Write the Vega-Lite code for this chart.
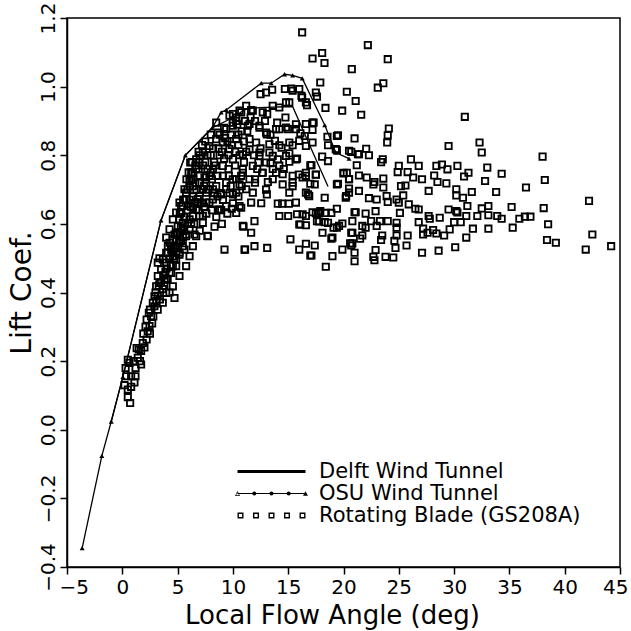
{
"$schema": "https://vega.github.io/schema/vega-lite/v6.json",
"width": 553, "height": 549,
"autosize": "none",
"padding": {"left": 67, "top": 18, "right": 11, "bottom": 64},
"background": "white",
"config": {
 "view": {"stroke": "black", "strokeWidth": 1.5},
 "font": "DejaVu Sans",
 "axis": {"domainColor": "black", "domainWidth": 1.5, "tickColor": "black", "tickWidth": 1.5, "tickSize": 7, "labelColor": "black", "titleColor": "black", "labelFont": "DejaVu Sans", "titleFont": "DejaVu Sans", "labelFontSize": 20, "titleFontSize": 26, "titleFontWeight": "normal", "grid": false, "labelOverlap": false, "labelFlush": false}
},
"datasets": {
 "blade": [
{"x":0.35,"y":0.156},{"x":0.5,"y":0.204},{"x":0.65,"y":0.195},{"x":0.8,"y":0.156},{"x":1.19,"y":0.156},{"x":1.1,"y":0.138},{"x":0.5,"y":0.117},{"x":0.8,"y":0.125},{"x":0.5,"y":0.095},{"x":0.71,"y":0.078},{"x":1.5,"y":0.234},{"x":1.7,"y":0.19},{"x":1.6,"y":0.2},{"x":1.3,"y":0.238},{"x":1.85,"y":0.253},{"x":2.2,"y":0.263},{"x":2.3,"y":0.287},{"x":2.46,"y":0.302},{"x":2.2,"y":0.321},{"x":2.6,"y":0.331},{"x":2.4,"y":0.341},{"x":2.9,"y":0.36},{"x":3.07,"y":0.375},{"x":3.66,"y":0.37},{"x":1.0,"y":0.2},{"x":1.4,"y":0.21},{"x":1.9,"y":0.28},{"x":2.0,"y":0.24},{"x":2.7,"y":0.31},{"x":3.2,"y":0.35},{"x":0.2,"y":0.13},{"x":0.3,"y":0.18},
{"x":2.76,"y":0.37},{"x":3.21,"y":0.39},{"x":3.67,"y":0.41},{"x":4.27,"y":0.4},{"x":4.72,"y":0.384},{"x":3.36,"y":0.428},{"x":3.97,"y":0.438},{"x":4.42,"y":0.457},{"x":4.87,"y":0.477},{"x":3.21,"y":0.487},{"x":3.36,"y":0.5},{"x":3.97,"y":0.516},{"x":4.42,"y":0.525},{"x":5.17,"y":0.51},{"x":4.12,"y":0.535},{"x":3.97,"y":0.56},{"x":4.27,"y":0.584},{"x":4.72,"y":0.569},{"x":5.17,"y":0.574},{"x":5.77,"y":0.569},{"x":6.53,"y":0.569},{"x":4.27,"y":0.545},{"x":4.87,"y":0.633},{"x":5.32,"y":0.652},{"x":5.77,"y":0.672},{"x":6.38,"y":0.647},{"x":7.28,"y":0.623},{"x":7.73,"y":0.564},{"x":8.34,"y":0.592},{"x":5.62,"y":0.701},{"x":6.08,"y":0.725},{"x":6.23,"y":0.75},{"x":6.68,"y":0.76},{"x":6.98,"y":0.779},{"x":6.14,"y":0.779},{"x":7.43,"y":0.735},{"x":8.19,"y":0.701},{"x":7.88,"y":0.662},{"x":8.64,"y":0.642},{"x":6.08,"y":0.613},{"x":5.47,"y":0.603},{"x":6.83,"y":0.672},{"x":7.58,"y":0.691},{"x":5.17,"y":0.545},{"x":5.62,"y":0.525},{"x":3.67,"y":0.496},
{"x":2.91,"y":0.389},{"x":3.82,"y":0.438},{"x":4.27,"y":0.457},{"x":4.57,"y":0.477},{"x":4.87,"y":0.496},{"x":5.17,"y":0.516},{"x":5.47,"y":0.535},{"x":5.77,"y":0.564},{"x":6.08,"y":0.584},{"x":6.23,"y":0.603},{"x":6.38,"y":0.623},{"x":6.68,"y":0.642},{"x":6.83,"y":0.662},{"x":6.98,"y":0.681},{"x":7.28,"y":0.701},{"x":7.58,"y":0.72},{"x":7.88,"y":0.74},{"x":3.06,"y":0.418},{"x":3.21,"y":0.448},{"x":3.51,"y":0.467},{"x":3.97,"y":0.487},{"x":4.12,"y":0.516},{"x":4.42,"y":0.535},{"x":4.57,"y":0.555},{"x":4.87,"y":0.574},{"x":5.02,"y":0.594},{"x":5.17,"y":0.613},{"x":5.32,"y":0.632},{"x":5.47,"y":0.652},{"x":5.62,"y":0.671},{"x":5.77,"y":0.691},{"x":6.08,"y":0.71},{"x":6.23,"y":0.73},{"x":6.38,"y":0.749},{"x":5.17,"y":0.662},{"x":4.57,"y":0.613},{"x":7.58,"y":0.662},{"x":8.19,"y":0.671},{"x":8.79,"y":0.642},{"x":9.39,"y":0.652},{"x":10.3,"y":0.632},{"x":10.6,"y":0.652},{"x":9.24,"y":0.525},{"x":11.05,"y":0.525},{"x":10.9,"y":0.594},{"x":11.95,"y":0.535},{"x":6.98,"y":0.623},{"x":7.28,"y":0.603},{"x":6.68,"y":0.564},{"x":6.38,"y":0.535},{"x":6.08,"y":0.506},{"x":5.77,"y":0.477},{"x":5.17,"y":0.448},{"x":4.57,"y":0.418},{"x":3.97,"y":0.399},{"x":5.47,"y":0.584},{"x":4.57,"y":0.506},{"x":8.49,"y":0.71},{"x":9.39,"y":0.701},{"x":10.3,"y":0.691},{"x":9.09,"y":0.74},{"x":9.99,"y":0.73},{"x":10.9,"y":0.749},{"x":11.2,"y":0.701},
{"x":6.68,"y":0.788},{"x":7.28,"y":0.808},{"x":7.88,"y":0.827},{"x":8.49,"y":0.847},{"x":8.64,"y":0.866},{"x":9.39,"y":0.876},{"x":9.99,"y":0.895},{"x":10.3,"y":0.91},{"x":10.75,"y":0.925},{"x":11.5,"y":0.891},{"x":12.4,"y":0.886},{"x":13.0,"y":0.866},{"x":13.9,"y":0.876},{"x":14.8,"y":0.881},{"x":15.7,"y":0.876},{"x":16.6,"y":0.891},{"x":13.8,"y":0.842},{"x":14.4,"y":0.822},{"x":15.1,"y":0.837},{"x":16.0,"y":0.842},{"x":16.6,"y":0.827},{"x":17.2,"y":0.837},{"x":13.3,"y":0.808},{"x":14.06,"y":0.788},{"x":14.8,"y":0.798},{"x":15.7,"y":0.788},{"x":12.1,"y":0.837},{"x":11.5,"y":0.817},{"x":10.9,"y":0.803},{"x":10.0,"y":0.788},{"x":9.09,"y":0.769},{"x":8.19,"y":0.759},{"x":7.58,"y":0.74},{"x":6.98,"y":0.72},{"x":6.38,"y":0.71},{"x":10.9,"y":0.759},{"x":11.8,"y":0.769},{"x":12.7,"y":0.749},{"x":13.6,"y":0.73},{"x":14.5,"y":0.745},{"x":15.4,"y":0.72},{"x":16.3,"y":0.735},{"x":11.5,"y":0.73},{"x":10.3,"y":0.73},{"x":9.39,"y":0.72},{"x":13.0,"y":0.779},{"x":9.69,"y":0.818},{"x":9.09,"y":0.837},{"x":12.7,"y":0.925},{"x":13.6,"y":0.944},{"x":15.1,"y":0.954},{"x":16.6,"y":0.954},{"x":13.0,"y":0.983},{"x":14.7,"y":0.993},{"x":15.4,"y":0.988},{"x":16.2,"y":0.973},{"x":17.5,"y":0.983},{"x":10.6,"y":0.93},{"x":11.2,"y":0.944},{"x":11.8,"y":0.93},{"x":9.99,"y":0.886},{"x":8.49,"y":0.895},{"x":9.69,"y":0.915},{"x":11.5,"y":0.847},{"x":12.4,"y":0.798},{"x":10.3,"y":0.847},
{"x":7.0,"y":0.8},{"x":7.5,"y":0.78},{"x":8.0,"y":0.8},{"x":8.2,"y":0.82},{"x":8.8,"y":0.8},{"x":9.2,"y":0.79},{"x":9.5,"y":0.84},{"x":9.8,"y":0.86},{"x":10.5,"y":0.86},{"x":10.6,"y":0.8},{"x":11.0,"y":0.84},{"x":11.3,"y":0.87},{"x":8.0,"y":0.75},{"x":8.6,"y":0.74},{"x":9.6,"y":0.76},{"x":10.2,"y":0.77},{"x":7.8,"y":0.7},{"x":8.9,"y":0.69},{"x":9.7,"y":0.69},{"x":10.8,"y":0.71},{"x":7.2,"y":0.66},{"x":7.6,"y":0.63},{"x":8.5,"y":0.62},{"x":9.0,"y":0.6},{"x":6.4,"y":0.68},{"x":6.7,"y":0.7},{"x":7.0,"y":0.74},{"x":6.5,"y":0.6},{"x":7.0,"y":0.58},{"x":5.9,"y":0.64},{"x":5.6,"y":0.62},{"x":5.3,"y":0.59},{"x":4.9,"y":0.55},{"x":4.6,"y":0.53},{"x":4.3,"y":0.5},{"x":4.0,"y":0.47},{"x":3.7,"y":0.45},{"x":3.5,"y":0.43},{"x":3.3,"y":0.42},{"x":4.9,"y":0.52},{"x":5.5,"y":0.56},{"x":5.9,"y":0.6},{"x":6.2,"y":0.65},{"x":6.6,"y":0.72},{"x":7.3,"y":0.77},{"x":7.7,"y":0.8},{"x":8.3,"y":0.78},{"x":8.8,"y":0.86},{"x":9.2,"y":0.88},{"x":10.0,"y":0.92},{"x":10.4,"y":0.89},{"x":11.6,"y":0.91},{"x":12.0,"y":0.9},{"x":12.9,"y":0.9},{"x":13.4,"y":0.86},{"x":12.5,"y":0.82},{"x":11.9,"y":0.8},{"x":12.2,"y":0.76},{"x":11.0,"y":0.78},{"x":13.0,"y":0.7},{"x":12.0,"y":0.72},{"x":13.6,"y":0.76},{"x":14.2,"y":0.77},{"x":14.6,"y":0.76},
{"x":2.5,"y":0.35},{"x":2.8,"y":0.33},{"x":3.0,"y":0.4},{"x":3.4,"y":0.38},{"x":3.8,"y":0.42},{"x":3.9,"y":0.46},{"x":4.1,"y":0.44},{"x":4.4,"y":0.48},{"x":4.7,"y":0.5},{"x":4.8,"y":0.53},{"x":5.0,"y":0.57},{"x":5.3,"y":0.55},{"x":5.6,"y":0.58},{"x":5.2,"y":0.63},{"x":5.5,"y":0.67},{"x":5.9,"y":0.7},{"x":6.1,"y":0.67},{"x":6.4,"y":0.73},{"x":6.6,"y":0.77},{"x":6.9,"y":0.76},{"x":7.1,"y":0.7},{"x":7.4,"y":0.71},{"x":7.7,"y":0.76},{"x":8.1,"y":0.73},{"x":8.4,"y":0.77},{"x":8.7,"y":0.82},{"x":9.0,"y":0.81},{"x":9.3,"y":0.85},{"x":9.6,"y":0.8},{"x":9.9,"y":0.83},{"x":10.2,"y":0.81},{"x":10.5,"y":0.83},{"x":10.8,"y":0.87},{"x":11.1,"y":0.9},{"x":8.0,"y":0.86},{"x":7.5,"y":0.84},{"x":7.2,"y":0.83},{"x":6.9,"y":0.81},{"x":6.3,"y":0.78},{"x":6.0,"y":0.75},{"x":5.8,"y":0.73},{"x":6.5,"y":0.66},{"x":6.9,"y":0.64},{"x":7.4,"y":0.65},{"x":8.1,"y":0.64},{"x":8.6,"y":0.68},{"x":9.1,"y":0.67},{"x":9.5,"y":0.63},{"x":10.0,"y":0.66},{"x":10.5,"y":0.68},{"x":9.8,"y":0.71},{"x":8.3,"y":0.69},{"x":1.2,"y":0.18},{"x":2.1,"y":0.3},{"x":2.5,"y":0.28},{"x":1.7,"y":0.23},
{"x":16.26,"y":1.158},{"x":15.27,"y":0.994},{"x":16.0,"y":0.993},{"x":12.5,"y":0.978},{"x":13.55,"y":0.991},{"x":16.26,"y":0.968},{"x":16.7,"y":0.946},{"x":14.8,"y":0.954},{"x":14.2,"y":0.939},{"x":11.65,"y":0.932},{"x":13.1,"y":0.92},{"x":14.75,"y":0.91},{"x":10.3,"y":0.9},{"x":11.35,"y":0.886},{"x":12.4,"y":0.88},{"x":14.0,"y":0.895},{"x":15.7,"y":0.89},{"x":17.2,"y":0.895},{"x":13.07,"y":0.861},{"x":14.2,"y":0.876},{"x":14.97,"y":0.876},{"x":16.1,"y":0.864},{"x":16.5,"y":0.856},{"x":19.4,"y":0.856},{"x":13.3,"y":0.832},{"x":14.2,"y":0.829},{"x":15.4,"y":0.829},{"x":18.6,"y":0.829},{"x":19.4,"y":0.815},{"x":20.5,"y":0.813},{"x":21.3,"y":0.803},{"x":11.2,"y":0.81},{"x":12.4,"y":0.808},{"x":13.6,"y":0.798},{"x":15.1,"y":0.806},{"x":15.8,"y":0.79},{"x":12.3,"y":0.779},{"x":13.4,"y":0.777},{"x":15.1,"y":0.781},{"x":17.0,"y":0.771},{"x":12.65,"y":0.749},{"x":13.9,"y":0.749},{"x":15.4,"y":0.74},{"x":15.96,"y":0.744},{"x":16.6,"y":0.749},{"x":17.5,"y":0.744},{"x":20.0,"y":0.749},{"x":20.5,"y":0.73},{"x":9.63,"y":0.74},{"x":10.75,"y":0.74},{"x":12.0,"y":0.73},{"x":13.16,"y":0.722},{"x":14.5,"y":0.715},{"x":15.4,"y":0.71},{"x":17.0,"y":0.717},{"x":19.5,"y":0.717},{"x":10.6,"y":0.715},{"x":11.8,"y":0.691},{"x":13.07,"y":0.686},{"x":15.1,"y":0.691},{"x":16.6,"y":0.691},{"x":16.9,"y":0.681},{"x":18.3,"y":0.676},{"x":20.24,"y":0.681},{"x":20.5,"y":0.703},{"x":8.94,"y":0.686},{"x":10.0,"y":0.686},{"x":11.65,"y":0.662},{"x":12.56,"y":0.66},{"x":14.06,"y":0.659},{"x":14.45,"y":0.659},{"x":15.06,"y":0.659},{"x":15.7,"y":0.662},{"x":17.9,"y":0.637},{"x":18.9,"y":0.632},{"x":19.4,"y":0.644},{"x":21.1,"y":0.634},{"x":8.94,"y":0.64},{"x":9.9,"y":0.644},{"x":10.75,"y":0.647},{"x":14.2,"y":0.623},{"x":15.0,"y":0.623},{"x":15.8,"y":0.628},{"x":16.6,"y":0.623},{"x":17.5,"y":0.631},{"x":18.4,"y":0.632},{"x":17.6,"y":0.608},{"x":18.3,"y":0.605},{"x":19.1,"y":0.589},{"x":19.6,"y":0.594},{"x":20.8,"y":0.608},{"x":16.1,"y":0.598},{"x":16.6,"y":0.596},{"x":11.95,"y":0.608},{"x":10.96,"y":0.592},{"x":11.65,"y":0.574},{"x":18.1,"y":0.574},{"x":19.0,"y":0.56},{"x":20.8,"y":0.574},{"x":15.2,"y":0.555},{"x":16.0,"y":0.525},{"x":16.6,"y":0.542},{"x":17.4,"y":0.537},{"x":19.9,"y":0.525},{"x":20.8,"y":0.543},{"x":21.0,"y":0.516},{"x":21.0,"y":0.491},{"x":19.0,"y":0.506},{"x":18.4,"y":0.475},{"x":17.0,"y":0.508},{"x":7.7,"y":0.565},{"x":11.1,"y":0.525},{"x":13.1,"y":0.53},
{"x":22.2,"y":1.121},{"x":17.2,"y":1.082},{"x":18.07,"y":1.098},{"x":18.28,"y":1.069},{"x":24.0,"y":1.08},{"x":20.75,"y":1.051},{"x":17.9,"y":1.012},{"x":23.1,"y":0.997},{"x":23.6,"y":1.01},{"x":20.3,"y":0.985},{"x":21.1,"y":0.958},{"x":17.6,"y":0.971},{"x":18.37,"y":0.938},{"x":19.88,"y":0.93},{"x":21.6,"y":0.918},{"x":30.97,"y":0.912},{"x":24.1,"y":0.878},{"x":24.0,"y":0.858},{"x":23.95,"y":0.837},{"x":17.3,"y":0.895},{"x":17.2,"y":0.874},{"x":19.5,"y":0.858},{"x":21.0,"y":0.849},{"x":18.55,"y":0.854},{"x":29.5,"y":0.827},{"x":32.3,"y":0.837},{"x":32.5,"y":0.808},{"x":38.0,"y":0.796},{"x":19.3,"y":0.818},{"x":22.05,"y":0.819},{"x":22.3,"y":0.8},{"x":20.7,"y":0.81},{"x":21.4,"y":0.803},{"x":18.07,"y":0.796},{"x":26.1,"y":0.788},{"x":23.55,"y":0.788},{"x":25.0,"y":0.769},{"x":26.8,"y":0.769},{"x":28.4,"y":0.769},{"x":28.9,"y":0.773},{"x":30.3,"y":0.769},{"x":33.0,"y":0.764},{"x":34.3,"y":0.746},{"x":18.6,"y":0.783},{"x":17.1,"y":0.771},{"x":21.2,"y":0.771},{"x":23.4,"y":0.78},{"x":24.9,"y":0.751},{"x":25.8,"y":0.751},{"x":29.4,"y":0.759},{"x":31.3,"y":0.749},{"x":20.3,"y":0.749},{"x":20.0,"y":0.747},{"x":21.4,"y":0.741},{"x":22.1,"y":0.735},{"x":23.6,"y":0.732},{"x":26.3,"y":0.735},{"x":27.1,"y":0.73},{"x":28.2,"y":0.741},{"x":30.9,"y":0.738},{"x":32.8,"y":0.725},{"x":38.2,"y":0.728},{"x":17.5,"y":0.743},{"x":16.6,"y":0.74},{"x":20.5,"y":0.73},{"x":22.8,"y":0.722},{"x":28.5,"y":0.722},{"x":29.3,"y":0.718},{"x":36.5,"y":0.706},{"x":17.4,"y":0.715},{"x":19.4,"y":0.715},{"x":22.7,"y":0.715},{"x":23.6,"y":0.706},{"x":25.2,"y":0.71},{"x":25.6,"y":0.712},{"x":27.7,"y":0.696},{"x":30.2,"y":0.701},{"x":31.6,"y":0.693},{"x":33.8,"y":0.693},{"x":42.2,"y":0.667},{"x":16.8,"y":0.686},{"x":20.2,"y":0.676},{"x":22.3,"y":0.675},{"x":23.0,"y":0.671},{"x":23.9,"y":0.681},{"x":24.8,"y":0.671},{"x":25.4,"y":0.683},{"x":30.2,"y":0.683},{"x":30.8,"y":0.676},{"x":20.5,"y":0.691},{"x":21.4,"y":0.696},{"x":24.0,"y":0.664},{"x":25.0,"y":0.662},{"x":25.9,"y":0.657},{"x":26.5,"y":0.644},{"x":26.8,"y":0.642},{"x":29.5,"y":0.642},{"x":30.2,"y":0.637},{"x":31.2,"y":0.652},{"x":32.5,"y":0.645},{"x":33.1,"y":0.652},{"x":35.2,"y":0.649},{"x":38.1,"y":0.646},{"x":21.0,"y":0.634},{"x":22.0,"y":0.63},{"x":22.9,"y":0.637},{"x":25.1,"y":0.632},{"x":17.2,"y":0.634},{"x":17.7,"y":0.632},{"x":16.3,"y":0.628},{"x":27.7,"y":0.623},{"x":28.7,"y":0.618},{"x":30.3,"y":0.633},{"x":31.1,"y":0.623},{"x":32.1,"y":0.623},{"x":33.1,"y":0.625},{"x":33.9,"y":0.623},{"x":34.3,"y":0.615},{"x":35.9,"y":0.615},{"x":36.4,"y":0.621},{"x":36.9,"y":0.621},{"x":17.8,"y":0.607},{"x":18.6,"y":0.603},{"x":19.9,"y":0.601},{"x":21.7,"y":0.594},{"x":22.5,"y":0.608},{"x":23.3,"y":0.608},{"x":24.0,"y":0.608},{"x":24.8,"y":0.603},{"x":26.8,"y":0.605},{"x":27.8,"y":0.615},{"x":30.0,"y":0.605},{"x":30.6,"y":0.605},{"x":38.5,"y":0.599},{"x":16.0,"y":0.598},{"x":19.4,"y":0.589},{"x":22.0,"y":0.589},{"x":23.0,"y":0.594},{"x":24.8,"y":0.589},{"x":27.2,"y":0.586},{"x":28.1,"y":0.582},{"x":29.6,"y":0.584},{"x":33.1,"y":0.586},{"x":31.7,"y":0.586},{"x":35.3,"y":0.589},{"x":20.7,"y":0.574},{"x":21.7,"y":0.566},{"x":23.5,"y":0.566},{"x":24.8,"y":0.566},{"x":25.8,"y":0.566},{"x":27.2,"y":0.569},{"x":27.6,"y":0.574},{"x":28.4,"y":0.572},{"x":29.1,"y":0.566},{"x":31.1,"y":0.56},{"x":42.5,"y":0.569},{"x":18.9,"y":0.557},{"x":21.5,"y":0.557},{"x":23.4,"y":0.553},{"x":24.6,"y":0.551},{"x":38.4,"y":0.553},{"x":39.2,"y":0.545},{"x":20.6,"y":0.543},{"x":20.7,"y":0.537},{"x":22.9,"y":0.524},{"x":24.7,"y":0.53},{"x":25.7,"y":0.537},{"x":27.1,"y":0.516},{"x":28.6,"y":0.522},{"x":30.1,"y":0.532},{"x":41.9,"y":0.525},{"x":44.2,"y":0.535},{"x":17.1,"y":0.508},{"x":22.7,"y":0.504},{"x":22.8,"y":0.494},{"x":23.8,"y":0.504},{"x":24.5,"y":0.502}
 ],
 "osu": [
{"x":-3.63,"y":-0.345},{"x":-1.85,"y":-0.076},{"x":-1.0,"y":0.024},{"x":0.05,"y":0.154},{"x":3.5,"y":0.61},{"x":5.7,"y":0.8},{"x":8.13,"y":0.88},{"x":8.94,"y":0.925},{"x":9.4,"y":0.932},{"x":12.56,"y":1.01},{"x":13.46,"y":1.01},{"x":14.67,"y":1.036},{"x":15.4,"y":1.033},{"x":16.27,"y":1.024},{"x":18.3,"y":0.888},{"x":19.3,"y":0.808},{"x":20.5,"y":0.79}
 ],
 "delft": [
{"x":-1.0,"y":0.024},{"x":0.05,"y":0.154},{"x":3.5,"y":0.61},{"x":5.7,"y":0.8},{"x":8.13,"y":0.88},{"x":9.7,"y":0.905},{"x":11.2,"y":0.935},{"x":12.4,"y":0.939},{"x":15.4,"y":0.942},{"x":16.9,"y":0.832},{"x":18.6,"y":0.709}
 ]
},
"layer": [
 {
  "data": {"name": "blade"},
  "mark": {"type": "point", "shape": "square", "filled": false, "color": "black", "strokeWidth": 1.8, "size": 40, "opacity": 1},
  "encoding": {
   "x": {"field": "x", "type": "quantitative", "scale": {"domain": [-5, 45], "nice": false, "zero": false},
         "axis": {"title": "Local Flow Angle (deg)", "values": [-5,0,5,10,15,20,25,30,35,40,45], "format": "d", "labelFontSize": 20, "labelPadding": 3, "labelFlush": true, "labelFlushOffset": 8, "titlePadding": 5, "titleFontSize": 26, "titleX": 265}},
   "y": {"field": "y", "type": "quantitative", "scale": {"domain": [-0.4, 1.2], "nice": false, "zero": false},
         "axis": {"title": "Lift Coef.", "values": [-0.4,-0.2,0,0.2,0.4,0.6,0.8,1.0,1.2], "format": ".1f", "labelAngle": 270, "labelAlign": "center", "labelBaseline": "bottom", "labelFontSize": 20, "labelPadding": 2, "titlePadding": 2, "titleFontSize": 28}}
  }
 },
 {
  "data": {"name": "delft"},
  "mark": {"type": "line", "color": "black", "strokeWidth": 1.3},
  "encoding": {"x": {"field": "x", "type": "quantitative"}, "y": {"field": "y", "type": "quantitative"}}
 },
 {
  "data": {"name": "osu"},
  "mark": {"type": "line", "color": "black", "strokeWidth": 1.3},
  "encoding": {"x": {"field": "x", "type": "quantitative"}, "y": {"field": "y", "type": "quantitative"}}
 },
 {
  "data": {"name": "osu"},
  "mark": {"type": "point", "shape": "triangle-up", "filled": true, "color": "black", "size": 25, "opacity": 1},
  "encoding": {"x": {"field": "x", "type": "quantitative"}, "y": {"field": "y", "type": "quantitative"}}
 },
 {
  "data": {"name": "osu"},
  "transform": [{"filter": "datum.x > 1000"}],
  "mark": {"type": "point", "filled": true, "color": "black", "size": 400, "opacity": 1, "strokeWidth": 0},
  "encoding": {
   "x": {"field": "x", "type": "quantitative"}, "y": {"field": "y", "type": "quantitative"},
   "shape": {"datum": "Delft Wind Tunnel", "type": "nominal",
     "scale": {"domain": ["Delft Wind Tunnel", "OSU Wind Tunnel", "Rotating Blade (GS208A)"],
       "range": [
        "M-3.4,-0.16H3.4V0.16H-3.4Z",
        "M-3.4,-0.06H3.4V0.06H-3.4Z M-1.92,0A0.2,0.2 0 1 1 -1.52,0A0.2,0.2 0 1 1 -1.92,0Z M-0.2,0A0.2,0.2 0 1 1 0.2,0A0.2,0.2 0 1 1 -0.2,0Z M1.52,0A0.2,0.2 0 1 1 1.92,0A0.2,0.2 0 1 1 1.52,0Z M3.15,0.22L3.4,-0.22L3.65,0.22Z M-3.65,0.24L-3.4,-0.24L-3.15,0.24Z M-3.55,0.17L-3.25,0.17L-3.4,-0.1Z",
        "M-3.4,-0.3H-2.8V0.3H-3.4Z M-3.26,-0.16V0.16H-2.94V-0.16Z M-1.85,-0.3H-1.25V0.3H-1.85Z M-1.71,-0.16V0.16H-1.39V-0.16Z M-0.3,-0.3H0.3V0.3H-0.3Z M-0.16,-0.16V0.16H0.16V-0.16Z M1.25,-0.3H1.85V0.3H1.25Z M1.39,-0.16V0.16H1.71V-0.16Z M2.8,-0.3H3.4V0.3H2.8Z M2.94,-0.16V0.16H3.26V-0.16Z"
       ]},
     "legend": {"title": null, "orient": "none", "legendX": 194, "legendY": 443, "padding": 0, "symbolSize": 400, "symbolStrokeWidth": 0, "symbolOpacity": 1, "symbolFillColor": "black", "labelOffset": 37, "rowPadding": 0, "labelFont": "DejaVu Sans", "labelFontSize": 21, "labelColor": "black", "labelLimit": 400}
   }
  }
 }
]
}
